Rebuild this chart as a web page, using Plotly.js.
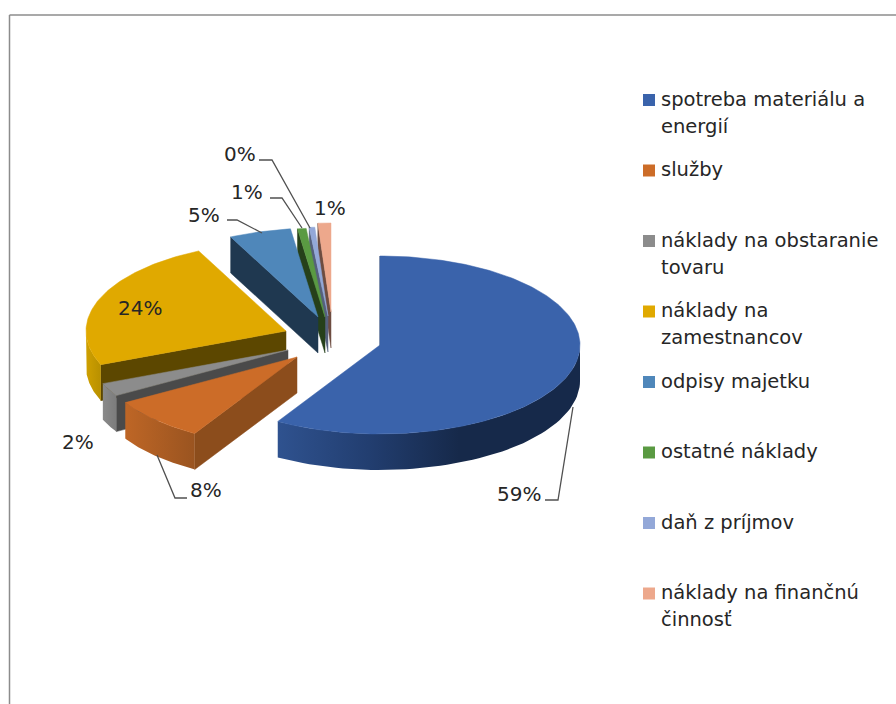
<!DOCTYPE html>
<html><head><meta charset="utf-8">
<script src="https://cdn.plot.ly/plotly-3.0.1.min.js"></script>
<style>html,body{margin:0;padding:0;background:#fff}#c{width:896px;height:704px}</style>
</head><body><div id="c"></div>
<script>
// --- data ---
const categories = ['spotreba materiálu a<br>energií','služby','náklady na obstaranie<br>tovaru','náklady na<br>zamestnancov','odpisy majetku','ostatné náklady','daň z príjmov','náklady na finančnú<br>činnosť'];
const values = [58.6, 7.9, 2.4, 24, 5, 0.7, 0.45, 1.05];
const pctLabels = ['59%','8%','2%','24%','5%','1%','0%','1%'];

// --- styles ---
const topColors = ['#3A63AB','#CC6C28','#8C8C8C','#E0A900','#4F87BA','#5A9A42','#93A8D8','#EDA88C'];
const edgeColors = ['#1A2F55','#8C4D1C','#4A4A4A','#5C4700','#1F3850','#26401A','#55607C','#6D4C40'];
const rimScales = [
  [[0,'#2F528F'],[0.3,'#223E70'],[0.6,'#16294A'],[1,'#16294A']],
  [[0,'#BE6626'],[1,'#9A5420']],
  [[0,'#8A8A8A'],[1,'#7C7C7C']],
  [[0,'#CFA000'],[1,'#B89000']],
  [[0,'#1F3850'],[1,'#1F3850']],
  [[0,'#26401A'],[1,'#26401A']],
  [[0,'#55607C'],[1,'#55607C']],
  [[0,'#6D4C40'],[1,'#6D4C40']]
];
// exploded pie geometry (px-mapped axes)
const apexX = [380,297,288,286,318,325,328,331];
const apexY = [345,357,350,331,317,317,316,312];
const RX = 200, RY = 89, DEPTH = 36;
const labelX = [519,206,78,140,204,247,240,330];
const labelY = [494,490,442,308,215,192,154,208];
const leaders = [
  [[545,558,573],[500,500,407]],
  [[187,175,157],[498,498,455]],
  [[227,237,262],[220,220,233]],
  [[270,282,302],[198,198,228]],
  [[259,272,310],[160,160,228]]
];
const legendMarkerX = 649, legendTextX = 661, legendY0 = 100, legendStep = 70.5, legendLine = 27;
const FONT = 'DejaVu Sans', LABEL_SIZE = 20, LEGEND_SIZE = 19.5, TEXT = '#262626';

// --- build ---
const total = values.reduce((a,b)=>a+b,0);
const px = (i,t)=>apexX[i]+RX*Math.sin(t*Math.PI/180);
const py = (i,t)=>apexY[i]-RY*Math.cos(t*Math.PI/180);
const starts=[], ends=[]; let acc=0;
values.forEach(v=>{starts.push(acc); acc+=v/total*360; ends.push(acc);});
const poly=(x,y,color,grad)=>{const tr={type:'scatter',mode:'lines',x,y,fill:'toself',
  line:{width:0.5,color},fillcolor:color,hoverinfo:'skip',showlegend:false};
  if(grad){tr.fillgradient={type:'horizontal',colorscale:grad}; tr.line={width:0};}
  return tr;};
const traces=[];
[7,6,5,4,3,2,1,0].forEach(i=>{
  const a=starts[i], b=ends[i];
  // radial side wall at start edge
  const ex=px(i,a), ey=py(i,a);
  traces.push(poly([apexX[i],ex,ex,apexX[i],apexX[i]],[apexY[i],ey,ey+DEPTH,apexY[i]+DEPTH,apexY[i]],edgeColors[i]));
  // outer rim (front half only)
  const r0=Math.max(a,90), r1=Math.min(b,270);
  if(r1>r0){
    const xs=[],ys=[];
    for(let t=r0;t<=r1+1e-6;t+=(r1-r0)/60){xs.push(px(i,t));ys.push(py(i,t));}
    const n=xs.length;
    for(let k=n-1;k>=0;k--){xs.push(xs[k]);ys.push(ys[k]+DEPTH);}
    xs.push(xs[0]);ys.push(ys[0]);
    traces.push(poly(xs,ys,edgeColors[i],rimScales[i]));
  }
  // top face
  const xs=[apexX[i]],ys=[apexY[i]];
  const steps=Math.max(8,Math.ceil(b-a));
  for(let k=0;k<=steps;k++){const t=a+(b-a)*k/steps;xs.push(px(i,t));ys.push(py(i,t));}
  xs.push(apexX[i]);ys.push(apexY[i]);
  traces.push(poly(xs,ys,topColors[i]));
});
leaders.forEach(l=>traces.push({type:'scatter',mode:'lines',x:l[0],y:l[1],line:{color:'#505050',width:1.3},hoverinfo:'skip',showlegend:false}));
traces.push({type:'scatter',mode:'markers',x:categories.map(()=>legendMarkerX),y:categories.map((c,i)=>legendY0+i*legendStep),
  marker:{symbol:'square',size:12,color:topColors,line:{width:0}},hoverinfo:'skip',showlegend:false});

const annotations=[];
pctLabels.forEach((s,i)=>annotations.push({x:labelX[i],y:labelY[i],xref:'x',yref:'y',text:s,showarrow:false,xanchor:'center',yanchor:'middle',font:{family:FONT,size:LABEL_SIZE,color:TEXT}}));
categories.forEach((c,i)=>c.split('<br>').forEach((line,j)=>annotations.push({x:legendTextX,y:legendY0+i*legendStep+j*legendLine,xref:'x',yref:'y',text:line,showarrow:false,xanchor:'left',yanchor:'middle',xshift:-2,yshift:1,font:{family:FONT,size:LEGEND_SIZE,color:TEXT}})));

const layout={width:896,height:704,margin:{l:0,r:0,t:0,b:0,pad:0},paper_bgcolor:'#fff',plot_bgcolor:'#fff',showlegend:false,
  xaxis:{range:[0,896],visible:false,fixedrange:true},
  yaxis:{range:[704,0],visible:false,fixedrange:true},
  annotations,
  shapes:[{type:'line',xref:'x',yref:'y',x0:9.5,x1:896,y0:15,y1:15,line:{color:'#8C8C8C',width:1.5}},
          {type:'line',xref:'x',yref:'y',x0:9.5,x1:9.5,y0:15,y1:704,line:{color:'#8C8C8C',width:1.5}}]};
Plotly.newPlot('c',traces,layout,{displayModeBar:false,staticPlot:true});
</script></body></html>
